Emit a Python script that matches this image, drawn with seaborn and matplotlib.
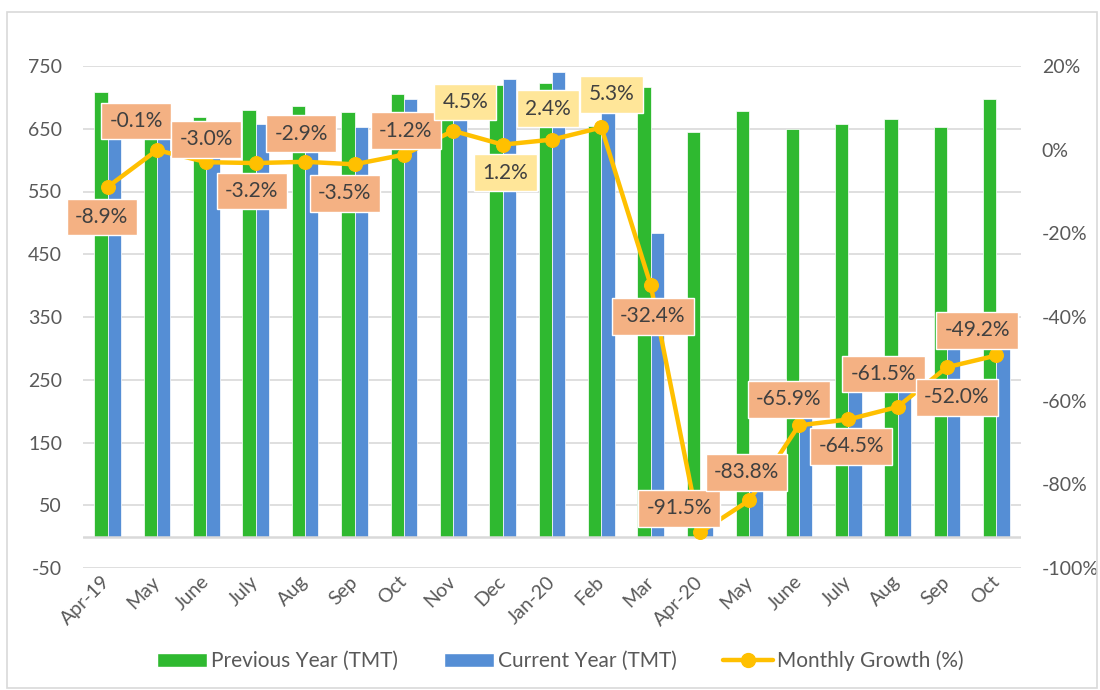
import numpy as np
import pandas as pd
import matplotlib
matplotlib.use("Agg")
import matplotlib.pyplot as plt
from matplotlib.patches import Patch, Rectangle
from matplotlib.lines import Line2D
import seaborn as sns

# ---- data ----
months = ["Apr-19", "May", "June", "July", "Aug", "Sep", "Oct", "Nov", "Dec", "Jan-20",
          "Feb", "Mar", "Apr-20", "May", "June", "July", "Aug", "Sep", "Oct"]
previous_year = [709, 680, 669, 680, 686, 677, 706, 690, 720, 723,
                 655, 716, 645, 679, 650, 658, 666, 653, 698]
current_year = [646, 679, 649, 658, 666, 653, 697, 715, 729, 740,
                690, 484, 55, 110, 222, 234, 256, 313, 345]
monthly_growth = [-8.9, -0.1, -3.0, -3.2, -2.9, -3.5, -1.2, 4.5, 1.2, 2.4,
                  5.3, -32.4, -91.5, -83.8, -65.9, -64.5, -61.5, -52.0, -49.2]
left_ticks = list(range(-50, 751, 100))
right_ticks = list(range(-100, 21, 20))
series_names = ["Previous Year (TMT)", "Current Year (TMT)", "Monthly Growth (%)"]

# label placement (screen pixels, +y = down)
label_offsets = [(-6, 30), (-21, -29), (0, -23), (-4, 28), (-4, -28), (-10, 29), (2, -24),
                 (12, -29), (3, 28), (-4, -31), (10, -33), (2, 31), (-21, -24), (-3, -28),
                 (-10, -26), (3, 27), (-14, -33), (10, 30), (-19, -25)]

GREEN = "#2FB930"
BLUE = "#558ED5"
GOLD = "#FFC000"
NEG_BOX = "#F4B183"
POS_BOX = "#FFE699"
TXT = "#595959"
GRID = "#D9D9D9"

sns.set_theme(style="white")
plt.rcParams["font.family"] = ["Lato", "DejaVu Sans"]

n = len(months)
df = pd.DataFrame({
    "idx": list(range(n)) * 2,
    "value": previous_year + current_year,
    "series": [series_names[0]] * n + [series_names[1]] * n,
})

fig = plt.figure(figsize=(11, 6.9), dpi=100)
ax = fig.add_axes([83 / 1100, 1 - 568 / 690, (1021 - 83) / 1100, (568 - 66) / 690])

sns.barplot(data=df, x="idx", y="value", hue="series", palette=[GREEN, BLUE],
            width=0.54, saturation=1, errorbar=None, ax=ax, legend=False,
            edgecolor="white", linewidth=0.5, gap=0)

ax.set_xlim(-0.5, n - 0.5)
ax.set_ylim(-50, 750)
ax.set_yticks(left_ticks)
ax.set_yticklabels([str(t) for t in left_ticks])
ax.yaxis.grid(True, color=GRID, lw=1.2)
ax.set_axisbelow(True)
ax.axhline(0, color=GRID, lw=1.8, zorder=1.5)
for s in ax.spines.values():
    s.set_visible(False)
ax.set_xlabel("")
ax.set_ylabel("")
ax.set_xticks(range(n))
ax.set_xticklabels(months, rotation=45, ha="right", va="center", rotation_mode="anchor")
ax.tick_params(axis="x", length=0, pad=8, labelsize=14, labelcolor=TXT)
ax.tick_params(axis="y", length=0, pad=15, labelsize=14, labelcolor=TXT)

ax2 = ax.twinx()
sns.lineplot(x=np.arange(n), y=monthly_growth, ax=ax2, color=GOLD, lw=3.2,
             marker="o", markersize=10, markeredgecolor=GOLD, markerfacecolor=GOLD)
ax2.set_ylim(-100, 20)
ax2.set_yticks(right_ticks)
ax2.set_yticklabels([f"{t}%" for t in right_ticks])
ax2.tick_params(axis="y", length=0, pad=15, labelsize=14, labelcolor=TXT)
for s in ax2.spines.values():
    s.set_visible(False)
ax2.set_xlim(-0.5, n - 0.5)

for i, g in enumerate(monthly_growth):
    dx, dy = label_offsets[i]
    ax2.annotate(f"{g:.1f}%", xy=(i, g), xytext=(dx, -dy), textcoords="offset pixels",
                 ha="center", va="center", fontsize=15, color="#404040", zorder=5,
                 bbox=dict(boxstyle="square,pad=0.4", fc=NEG_BOX if g < 0 else POS_BOX,
                           ec="white", lw=1))

handles = [Patch(facecolor=GREEN), Patch(facecolor=BLUE),
           Line2D([0], [0], color=GOLD, lw=3.2, marker="o", markersize=10)]
leg = fig.legend(handles, series_names, loc="center", bbox_to_anchor=(560 / 1100, 1 - 661 / 690),
                 ncol=3, frameon=False, fontsize=15, handlelength=2.4, handleheight=0.6,
                 handletextpad=0.2, columnspacing=2.2)
for t in leg.get_texts():
    t.set_color(TXT)

fig.add_artist(Rectangle((7 / 1100, 1 - 688 / 690), (1097 - 7) / 1100, (688 - 12) / 690,
                         transform=fig.transFigure, fill=False, ec=GRID, lw=1.2))

fig.savefig("out.png", dpi=100)
